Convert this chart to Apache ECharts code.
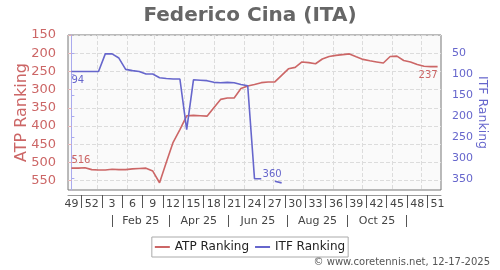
<!DOCTYPE html>
<html><head><meta charset="utf-8">
<script src="https://cdn.jsdelivr.net/npm/echarts@6/dist/echarts.min.js"></script>
<style>html,body{margin:0;padding:0;background:#fff}#c{width:500px;height:270px}</style>
</head><body><div id="c"></div>
<script>
// ---- data ----
const weekLabels = ['49','50','51','52','1','2','3','4','5','6','7','8','9','10','11','12','13','14','15','16','17','18','19','20','21','22','23','24','25','26','27','28','29','30','31','32','33','34','35','36','37','38','39','40','41','42','43','44','45','46','47','48','49','50','51'];
const atpRanking = [516,516,515,520,521,521,519,520,520,518,517,516,524,556,500,445,410,372,371,372,373,350,327,323,323,297,290,286,281,279,279,261,243,239,224,226,229,216,209,206,204,202,210,217,221,224,227,209,208,220,224,231,236,237,237];
const itfRanking = [94,94,94,94,94,52,52,62,89,92,94,100,100,109,111,112,112,233,114,115,116,120,121,120,121,125,128,350,350,null,356,360];
const monthLabels = ['Feb 25','Apr 25','Jun 25','Aug 25','Oct 25'];
const atpTicks = [150,200,250,300,350,400,450,500,550];
const itfTicks = [50,100,150,200,250,300,350];
const startDate = Date.UTC(2024,11,5); // week 49 of 2024 (Thursday)

// ---- derived helpers ----
const WEEK = 7*86400000;
const toIdx = d => (d - startDate)/WEEK;
const monthStarts = [];
for (let m=0;m<12;m++) monthStarts.push(toIdx(Date.UTC(2025,m,1)));
const monthSeps = [0,2,4,6,8,10].map(m => toIdx(Date.UTC(2025,m,16)));
const monthLabelPos = monthSeps.slice(0,5).map((v,i)=> (v+monthSeps[i+1])/2);
const weekLabelPos = [], weekTickPos = [];
for (let i=0;i<weekLabels.length;i+=3){ weekLabelPos.push(i); if (i+1.5 < weekLabels.length-1) weekTickPos.push(i+1.5); }

const RED='#cc6666', BLUE='#6666cc', FONT='DejaVu Sans';

function mkData(arr, firstLbl, lastLbl){
  let last = -1; arr.forEach((v,i)=>{ if(v!=null) last=i; });
  return arr.map((v,i)=>{
    const item = {value:[i, v==null?'-':v]};
    if (i===0) item.label = Object.assign({show:true}, firstLbl);
    if (i===last) item.label = Object.assign({show:true}, lastLbl);
    return item;
  });
}

const chart = echarts.init(document.getElementById('c'), null, {renderer:'canvas'});
const xBase = {type:'value', min:-0.5, max:54.5, gridIndex:0};
chart.setOption({
  animation:false,
  textStyle:{fontFamily:FONT},
  title:{text:'Federico Cina (ITA)', left:'center', top:1, textStyle:{fontFamily:FONT, fontSize:20, fontWeight:'bold', color:'#666'}},
  grid:{left:68, right:59, top:35, bottom:80, outerBoundsMode:'none', containLabel:false, show:true, backgroundColor:'#fafafa', borderColor:'#777', borderWidth:1},
  legend:{bottom:13, left:'center', icon:'rect', itemWidth:15, itemHeight:2, itemGap:6, padding:[4,3],
    borderColor:'#aaa', borderWidth:1, backgroundColor:'#fff',
    textStyle:{fontFamily:FONT, fontSize:12, color:'#222'}, data:['ATP Ranking','ITF Ranking']},
  graphic:[{type:'text', right:10, bottom:3, style:{text:'© www.coretennis.net, 12-17-2025', fontFamily:FONT, fontSize:10, fill:'#555'}}],
  xAxis:[
    Object.assign({}, xBase, {position:'bottom', offset:5,
      axisLine:{show:true, lineStyle:{color:'#999'}},
      axisTick:{show:true, customValues:weekTickPos, length:13, lineStyle:{color:'#555'}},
      axisLabel:{customValues:weekLabelPos, formatter:v=>weekLabels[Math.round(v)], fontSize:11, color:'#444', margin:4, fontFamily:FONT},
      splitLine:{show:false}}),
    Object.assign({}, xBase, {position:'bottom', offset:25,
      axisLine:{show:false},
      axisTick:{show:true, customValues:monthSeps, length:12, lineStyle:{color:'#555'}},
      axisLabel:{customValues:monthLabelPos, formatter:(v)=>{const k=monthLabelPos.findIndex(p=>Math.abs(p-v)<0.01); return k>=0?monthLabels[k]:'';}, fontSize:11, color:'#444', margin:1, fontFamily:FONT},
      splitLine:{show:false}}),
    Object.assign({}, xBase, {position:'top', axisLine:{show:false}, axisLabel:{show:false},
      axisTick:{show:false, customValues:monthStarts},
      splitLine:{show:true, lineStyle:{color:'#dcdcdc', type:'dashed', width:1}}})
  ],
  yAxis:[
    {type:'value', inverse:true, min:150, max:576, position:'left', offset:5,
      axisLine:{show:true, lineStyle:{color:'#e8b0b0'}},
      axisTick:{show:true, customValues:atpTicks, length:3, lineStyle:{color:'#e8b0b0'}},
      axisLabel:{customValues:atpTicks, fontSize:13, color:RED, margin:7, fontFamily:FONT},
      splitLine:{show:true, lineStyle:{color:'#dcdcdc', type:'dashed', width:1}},
      name:'ATP Ranking', nameLocation:'middle', nameGap:33, nameMoveOverlap:false, nameTextStyle:{fontSize:16, color:RED, fontFamily:FONT}},
    {type:'value', inverse:true, min:7, max:377, position:'right', offset:5,
      axisLine:{show:true, lineStyle:{color:'#aaaaee'}},
      axisTick:{show:true, customValues:itfTicks, length:3, lineStyle:{color:'#aaaaee'}},
      axisLabel:{customValues:itfTicks, fontSize:11, color:BLUE, margin:6, fontFamily:FONT},
      splitLine:{show:false},
      name:'ITF Ranking', nameLocation:'middle', nameGap:30, nameMoveOverlap:false, nameRotate:-90, nameTextStyle:{fontSize:12.5, color:BLUE, fontFamily:FONT}}
  ],
  series:[
    {name:'ATP Ranking', type:'line', xAxisIndex:0, yAxisIndex:0, showSymbol:true, symbol:'circle', symbolSize:0,
      lineStyle:{color:RED, width:1.6}, itemStyle:{color:RED}, emphasis:{disabled:true},
      label:{show:false, fontSize:10, color:RED, fontFamily:FONT},
      data:mkData(atpRanking, {position:'top', align:'left', distance:3}, {position:'bottom', align:'right', distance:4})},
    {name:'ITF Ranking', type:'line', xAxisIndex:0, yAxisIndex:1, showSymbol:true, symbol:'circle', symbolSize:0,
      lineStyle:{color:BLUE, width:1.6}, itemStyle:{color:BLUE}, emphasis:{disabled:true},
      label:{show:false, fontSize:10, color:BLUE, fontFamily:FONT},
      data:mkData(itfRanking, {position:'bottom', align:'left', distance:4}, {position:'top', align:'right', distance:3})}
  ]
});
</script></body></html>
